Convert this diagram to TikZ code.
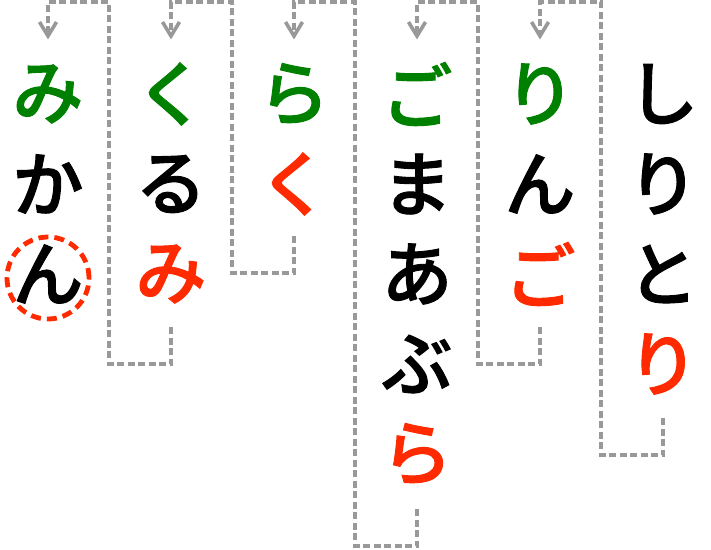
\documentclass[tikz,border=0pt]{standalone}
\usepackage{fontspec}
\newfontfamily\jpfont[FakeBold=1.3]{Noto Sans CJK JP Medium}
\usetikzlibrary{calc}
\definecolor{wordgreen}{HTML}{008000}
\definecolor{wordred}{HTML}{FF2A00}
\definecolor{linkgray}{HTML}{999999}

\begin{document}
\begin{tikzpicture}[line join=miter,x=1pt,y=-1pt,
    kana/.style={font=\jpfont\fontsize{71}{71}\selectfont,inner sep=0pt},
    head/.style={kana,text=wordgreen},
    tail/.style={kana,text=wordred},
    link/.style={draw=linkgray,line width=3.2pt,dash pattern=on 7pt off 3.5pt},
    barb/.style={draw=linkgray,line width=3.6pt,line join=miter}]
      \useasboundingbox (0,0) rectangle (711,549);
      % しりとり
      \node[kana] (shi1) at (663,94) {し};
      \node[kana] (shi2) at (663,184) {り};
      \node[kana] (shi3) at (663,274) {と};
      \node[tail] (shi4) at (663,364) {り};
      % りんご
      \node[head] (rin1) at (540,94) {り};
      \node[kana] (rin2) at (540,184) {ん};
      \node[tail] (rin3) at (540,274) {ご};
      % ごまあぶら
      \node[head] (goma1) at (417,94) {ご};
      \node[kana] (goma2) at (417,184) {ま};
      \node[kana] (goma3) at (417,274) {あ};
      \node[kana] (goma4) at (417,364) {ぶ};
      \node[tail] (goma5) at (417,454) {ら};
      % らく
      \node[head] (raku1) at (294,94) {ら};
      \node[tail] (raku2) at (294,184) {く};
      % くるみ
      \node[head] (kuru1) at (171,94) {く};
      \node[kana] (kuru2) at (171,184) {る};
      \node[tail] (kuru3) at (171,274) {み};
      % みかん
      \node[head] (mika1) at (48,94) {み};
      \node[kana] (mika2) at (48,184) {か};
      \node[kana] (mika3) at (48,274) {ん};
      \draw[wordred,line width=4.8pt,dash pattern=on 10pt off 6pt] ($(mika3)+(0,4)$) circle[radius=41pt];
      % links
      \draw[link] ($(shi4)+(0,54)$) -- ++(0,37) -- ++(-62,0) |- ($(rin1)+(0,-92)$) -- ($(rin1)+(0,-58)$);
      \draw[link] ($(rin3)+(0,53)$) -- ++(0,37) -- ++(-62,0) |- ($(goma1)+(0,-92)$) -- ($(goma1)+(0,-58)$);
      \draw[link] ($(goma5)+(0,55)$) -- ++(0,37) -- ++(-62,0) |- ($(raku1)+(0,-92)$) -- ($(raku1)+(0,-58)$);
      \draw[link] ($(raku2)+(0,52)$) -- ++(0,37) -- ++(-62,0) |- ($(kuru1)+(0,-92)$) -- ($(kuru1)+(0,-58)$);
      \draw[link] ($(kuru3)+(0,53)$) -- ++(0,37) -- ++(-62,0) |- ($(mika1)+(0,-92)$) -- ($(mika1)+(0,-58)$);
      % arrow heads
      \foreach \w in {rin1,goma1,raku1,kuru1,mika1}
        \draw[barb] ($(\w)+(-8.5,-72)$) -- ($(\w)+(0,-58)$) -- ($(\w)+(8.5,-72)$);
\end{tikzpicture}
\end{document}
